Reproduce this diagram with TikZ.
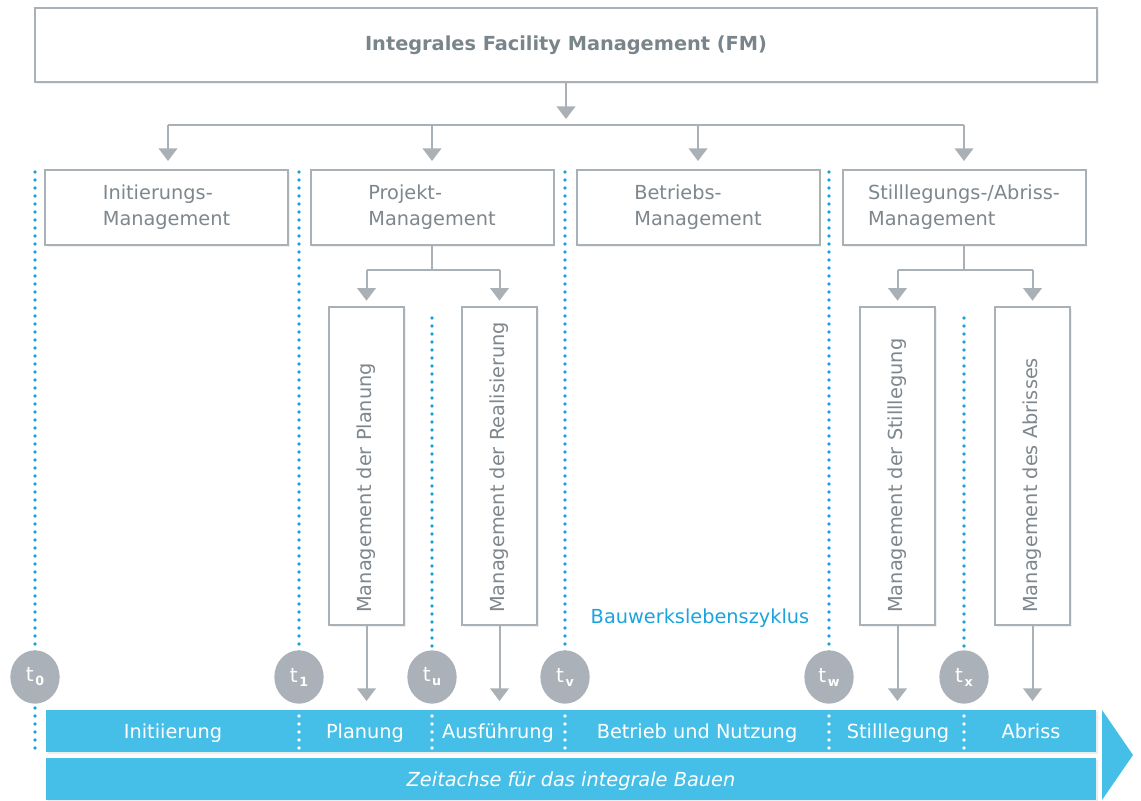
\documentclass[tikz,border=0pt]{standalone}
\usepackage{fontspec}
\setmainfont{DejaVu Sans}
\usetikzlibrary{arrows.meta,shadows,shapes.geometric}
\definecolor{boxgray}{HTML}{A9B0B6}
\definecolor{txtgray}{HTML}{7E878D}
\definecolor{titlegray}{HTML}{7A858B}
\definecolor{barblue}{HTML}{45BFE8}
\definecolor{dotblue}{HTML}{1BA3DE}
\definecolor{circgray}{HTML}{AAB1B8}
\begin{document}
\begin{tikzpicture}[x=0.75pt,y=-0.75pt,
  font=\fontsize{14.5}{19.5}\selectfont,
  box/.style={draw=boxgray, line width=1.5pt, fill=white, inner sep=0pt,
    text=txtgray, align=left,
    drop shadow={shadow xshift=1.2pt, shadow yshift=-1.2pt, opacity=0.12}},
  mainbox/.style={box, minimum width=182.25pt, minimum height=56.25pt},
  subbox/.style={box, minimum width=56.25pt, minimum height=238.5pt},
  conn/.style={draw=boxgray, line width=1.5pt},
  arr/.style={conn, -{Triangle[width=14pt,length=9.5pt]}},
  bluedots/.style={draw=dotblue, line width=2.7pt, line cap=round, dash pattern=on 0pt off 6pt},
  whitedots/.style={draw=white, line width=2.7pt, line cap=round, dash pattern=on 0pt off 6pt},
  tcirc/.style={ellipse, fill=circgray, minimum width=37pt, minimum height=40pt, inner sep=0pt, text=white},
  bar/.style={fill=barblue, minimum width=787.5pt, minimum height=31.5pt, inner sep=0pt,
    drop shadow={shadow xshift=1.2pt, shadow yshift=-1.2pt, opacity=0.15}},
  bartext/.style={text=white, anchor=base},
  vtext/.style={rotate=90, anchor=west, text=txtgray, inner sep=0pt}
]
\useasboundingbox (0,0) rectangle (1141,800);

% blue dotted time lines
\draw[bluedots] (35,172) -- (35,652);
\draw[bluedots] (35,708) -- (35,748);
\draw[bluedots] (299,172) -- (299,652);
\draw[bluedots] (432,318) -- (432,652);
\draw[bluedots] (565,172) -- (565,652);
\draw[bluedots] (829,172) -- (829,652);
\draw[bluedots] (964,318) -- (964,652);

% top box
\node[box, minimum width=796.5pt, minimum height=55.5pt, font=\fontsize{14.5}{19.5}\selectfont\bfseries, text=titlegray]
  (fm) at (566,45) {Integrales Facility Management (FM)};

% management boxes
\node[mainbox] (init) at (166.5,207.5) {Initierungs-\\Management};
\node[mainbox] (proj) at (432,207.5) {Projekt-\\Management};
\node[mainbox] (betr) at (698,207.5) {Betriebs-\\Management};
\node[mainbox] (stil) at (964,207.5) {Stilllegungs-/Abriss-\\Management};

% bus
\coordinate (h1) at (168,125);
\coordinate (h2) at (432,125);
\coordinate (h3) at (698,125);
\coordinate (h4) at (964,125);
\coordinate (fmtip) at (566,119);
\draw[arr] (fm.south) -- (fmtip);
\draw[conn] (h1) -- (h4);
\draw[arr, shorten >=6pt] (h1) -- (h1 |- init.north);
\draw[arr, shorten >=6pt] (h2) -- (proj.north);
\draw[arr, shorten >=6pt] (h3) -- (betr.north);
\draw[arr, shorten >=6pt] (h4) -- (stil.north);

% sub boxes
\node[subbox] (plan) at (366.5,466) {};
\node[subbox] (real) at (499.5,466) {};
\node[subbox] (still) at (897.5,466) {};
\node[subbox] (abr) at (1032.5,466) {};
\node[vtext] (tplan) at (366.5,613) {Management der Planung};
\node[vtext] (treal) at (499.5,613) {Management der Realisierung};
\node[vtext] (tstill) at (897.5,613) {Management der Stilllegung};
\node[vtext] (tabr) at (1032.5,613) {Management des Abrisses};

\coordinate (p1) at (432,270);
\coordinate (p2) at (366.5,270);
\coordinate (p3) at (499.5,270);
\draw[conn] (proj.south) -- (p1);
\draw[conn] (p2) -- (p3);
\draw[arr, shorten >=4pt] (p2) -- (plan.north);
\draw[arr, shorten >=4pt] (p3) -- (real.north);

\coordinate (s1) at (964,270);
\coordinate (s2) at (897.5,270);
\coordinate (s3) at (1032.5,270);
\draw[conn] (stil.south) -- (s1);
\draw[conn] (s2) -- (s3);
\draw[arr, shorten >=4pt] (s2) -- (still.north);
\draw[arr, shorten >=4pt] (s3) -- (abr.north);

% arrows to time bar
\coordinate (e1) at (366.5,701);
\coordinate (e2) at (499.5,701);
\coordinate (e3) at (897.5,701);
\coordinate (e4) at (1032.5,701);
\draw[arr] (plan.south) -- (e1);
\draw[arr] (real.south) -- (e2);
\draw[arr] (still.south) -- (e3);
\draw[arr] (abr.south) -- (e4);

% time markers
\newcommand{\tmark}[1]{\fontsize{15}{15}\selectfont t\kern1.2pt\raisebox{-3pt}{\fontsize{9.5}{10}\selectfont\bfseries #1}}
\node[tcirc] (t0) at (35,677) {\tmark{0}};
\node[tcirc] (t1) at (299,677) {\tmark{1}};
\node[tcirc] (tu) at (432,677) {\tmark{u}};
\node[tcirc] (tv) at (565,677) {\tmark{v}};
\node[tcirc] (tw) at (829,677) {\tmark{w}};
\node[tcirc] (tx) at (964,677) {\tmark{x}};

% bars
\node[bar] (bar1) at (571,731) {};
\node[bar] (bar2) at (571,779) {};
\fill[barblue] (1102,710) -- (1133,755) -- (1102,800) -- cycle;

\draw[whitedots] (299,716) -- (299,748);
\draw[whitedots] (432,716) -- (432,748);
\draw[whitedots] (565,716) -- (565,748);
\draw[whitedots] (829,716) -- (829,748);
\draw[whitedots] (964,716) -- (964,748);

\node[bartext] (l1) at (173,738) {Initiierung};
\node[bartext] (l2) at (365,738) {Planung};
\node[bartext] (l3) at (498,738) {Ausführung};
\node[bartext] (l4) at (697,738) {Betrieb und Nutzung};
\node[bartext] (l5) at (898,738) {Stilllegung};
\node[bartext] (l6) at (1031,738) {Abriss};
\node[bartext, font=\fontsize{14.5}{19.5}\selectfont\itshape] (zeit) at (571,786) {Zeitachse für das integrale Bauen};

\node[text=dotblue] (blz) at (700,618) {Bauwerkslebenszyklus};
\end{tikzpicture}
\end{document}
